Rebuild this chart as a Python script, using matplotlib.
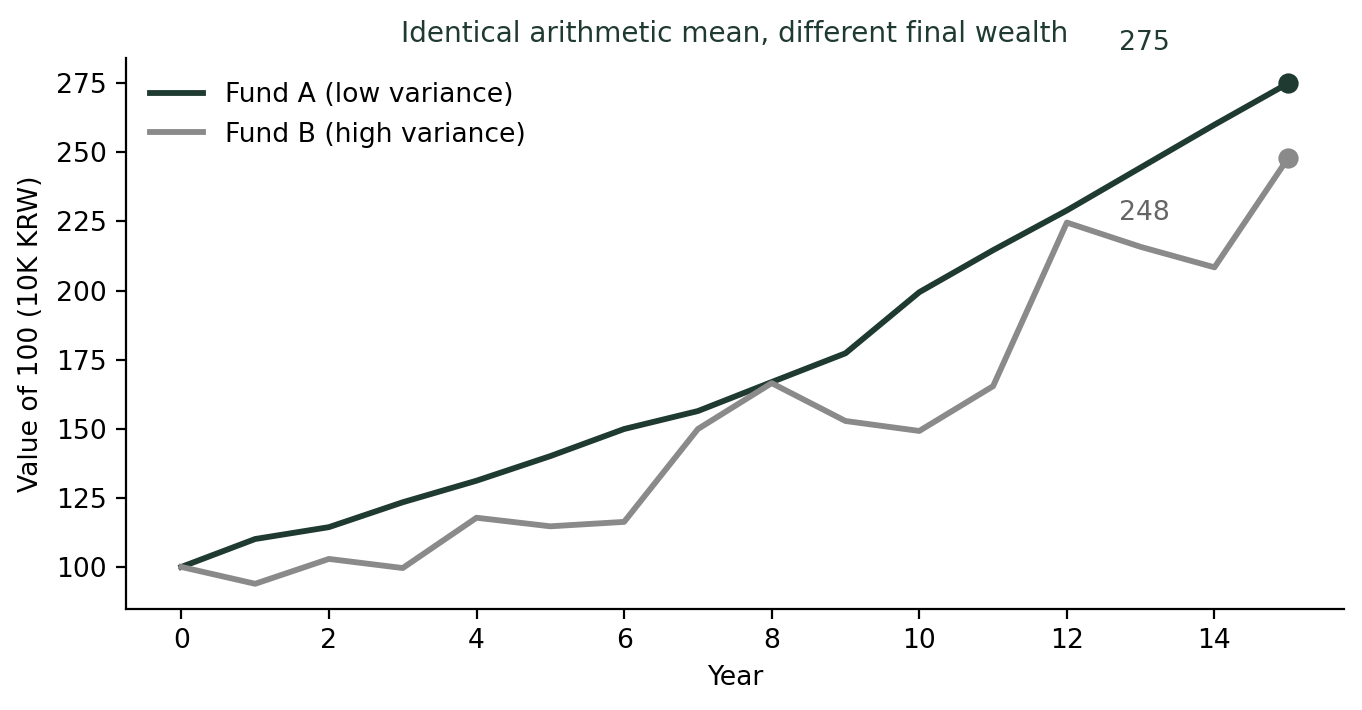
import matplotlib
matplotlib.use("Agg")
import matplotlib.pyplot as plt

# --- data ---
years = list(range(16))
fund_a = [100, 110.1, 114.4, 123.4, 131.2, 140.1, 149.9, 156.4, 166.9, 177.3,
          199.4, 214.6, 229.0, 244.5, 260.0, 275.0]
fund_b = [100, 93.9, 102.9, 99.6, 117.8, 114.7, 116.3, 149.9, 166.5, 152.8,
          149.2, 165.4, 224.6, 215.8, 208.4, 248.0]
label_a = "Fund A (low variance)"
label_b = "Fund B (high variance)"

col_a = "#1f3a30"
col_b = "#8a8a8a"

plt.rcParams["font.size"] = 9.6

fig, ax = plt.subplots(figsize=(6.81, 3.55), dpi=200)

ax.plot(years, fund_a, color=col_a, lw=2.1, label=label_a)
ax.plot(years, fund_b, color=col_b, lw=2.1, label=label_b)
ax.plot(years[-1], fund_a[-1], "o", color=col_a, ms=6.3)
ax.plot(years[-1], fund_b[-1], "o", color=col_b, ms=6.3)

# end-value labels
ax.text(13.05, fund_a[-1] + 14.5, f"{fund_a[-1]:.0f}", color=col_a,
        ha="center", va="center", fontsize=9.6)
ax.text(13.05, fund_b[-1] - 20.0, f"{fund_b[-1]:.0f}", color="#666666",
        ha="center", va="center", fontsize=9.6)

ax.set_title("Identical arithmetic mean, different final wealth",
             color=col_a, fontsize=10.1)
ax.set_xlabel("Year")
ax.set_ylabel("Value of 100 (10K KRW)")
ax.set_yticks([100, 125, 150, 175, 200, 225, 250, 275])
ax.spines["top"].set_visible(False)
ax.spines["right"].set_visible(False)
ax.legend(loc="upper left", frameon=False)

fig.subplots_adjust(left=0.0925, right=0.9865, top=0.918, bottom=0.1425)
fig.savefig("out.png", dpi=200)
plt.close(fig)
